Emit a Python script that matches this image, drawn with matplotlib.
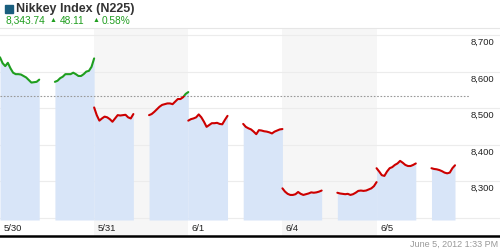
import numpy as np
import matplotlib
matplotlib.use("Agg")
import matplotlib.pyplot as plt
from matplotlib.patches import Rectangle

plt.rcParams['font.family'] = ['Liberation Sans', 'DejaVu Sans']

# Nikkei 225 intraday, 10 minute prices, sessions 9:00-11:30 and 12:30-15:00
days = ["5/30", "5/31", "6/1", "6/4", "6/5"]
am_prices = [
    [8639, 8623, 8615, 8624, 8609, 8597, 8593, 8593, 8592, 8588, 8584, 8577, 8570, 8571, 8572, 8578],
    [8502, 8481, 8466, 8472, 8477, 8475, 8470, 8463, 8472, 8481, 8480, 8481, 8482, 8475, 8472, 8484],
    [8466, 8470, 8472, 8475, 8483, 8475, 8463, 8449, 8454, 8459, 8459, 8460, 8457, 8456, 8468, 8479],
    [8281, 8272, 8266, 8263, 8263, 8265, 8271, 8266, 8263, 8265, 8267, 8270, 8269, 8270, 8272, 8275],
    [8336, 8327, 8317, 8315, 8327, 8336, 8339, 8345, 8349, 8356, 8351, 8345, 8342, 8342, 8345, 8349],
]
pm_prices = [
    [8572, 8575, 8582, 8586, 8593, 8593, 8593, 8597, 8593, 8588, 8588, 8593, 8600, 8602, 8613, 8636],
    [8481, 8484, 8490, 8497, 8504, 8509, 8511, 8513, 8513, 8511, 8518, 8525, 8525, 8530, 8539, 8544],
    [8457, 8449, 8445, 8442, 8436, 8429, 8440, 8439, 8437, 8436, 8434, 8431, 8436, 8439, 8442, 8443],
    [8269, 8267, 8266, 8265, 8266, 8263, 8265, 8269, 8274, 8275, 8274, 8275, 8278, 8281, 8287, 8298],
    [8336, 8334, 8333, 8331, 8328, 8324, 8322, 8324, 8336, 8344],
]
prev_close = 8534
y_ticks = [8200, 8300, 8400, 8500, 8600, 8700]
y_labels = ["", "8,300", "8,400", "8,500", "8,600", "8,700"]

GREEN = "#1f9e1f"
RED = "#cc0000"
FILL = "#d8e5f8"
BAND = "#f6f6f6"

fig = plt.figure(figsize=(5, 2.5), dpi=100)
ax = fig.add_axes([0, 1 - 236 / 250, 1, 208 / 250])
ax.set_xlim(0, 500 / 15.69)
ax.set_ylim(8150.8, 8719.1)
base = 8194.5

# alternate day shading
for d in range(len(days)):
    if d % 2 == 1:
        ax.axvspan(6 * d, 6 * d + 6, color=BAND, lw=0, zorder=0)

for t in y_ticks:
    ax.axhline(t, color="#ececec", lw=0.8, zorder=1)

step = 1 / 6.0
for d in range(len(days)):
    for start, prices in ((0.0, am_prices[d]), (3.5, pm_prices[d])):
        x = 6 * d + start + step * np.arange(len(prices))
        y = np.array(prices)
        ax.fill_between(x, base, y, color=FILL, lw=0, zorder=2)
        for col, lo, hi in ((GREEN, prev_close, 9000), (RED, 8000, prev_close)):
            ln, = ax.plot(x, y, color=col, lw=1.5, zorder=4,
                          solid_joinstyle="round", solid_capstyle="round")
            clip = Rectangle((0, lo), 100, hi - lo, transform=ax.transData)
            ln.set_clip_path(clip)

ax.axhline(prev_close, xmax=470 / 500, color="#999999", lw=0.8,
           linestyle=(0, (1.5, 1.5)), zorder=3)

for t, lab in zip(y_ticks, y_labels):
    if lab:
        ax.annotate(lab, xy=(494 / 500, t), xycoords=("axes fraction", "data"),
                    xytext=(0, -2.0), textcoords="offset points",
                    ha="right", va="top", fontsize=6.8, color="#222222", zorder=5)

for d, lab in enumerate(days):
    ax.annotate(lab, xy=(6 * d, 8172), xycoords="data", xytext=(2.5, 0),
                textcoords="offset points", ha="left", va="center",
                fontsize=6.8, color="#222222")

ax.set_xticks([])
ax.set_yticks([])
for s in ("left", "right"):
    ax.spines[s].set_visible(False)
ax.spines["top"].set_color("#e6e6e6")
ax.spines["top"].set_linewidth(0.8)
ax.spines["bottom"].set_color("black")
ax.spines["bottom"].set_linewidth(1.8)

# header
fig.patches.append(Rectangle((5 / 500, 1 - 13 / 250), 8 / 500, 8 / 250,
                             transform=fig.transFigure, color="#1a5e7e"))
fig.text(15.5 / 500, 1 - 8.8 / 250, "Nikkey Index (N225)", fontsize=9,
         fontweight="bold", color="#333333", va="center", ha="left")
fig.text(5 / 500, 1 - 20.5 / 250, "8,343.74", fontsize=7.3, color=GREEN,
         va="center", ha="left")
fig.text(50 / 500, 1 - 20.5 / 250, "\u25b2", fontsize=5, color=GREEN,
         va="center", ha="left")
fig.text(60 / 500, 1 - 20.5 / 250, "48.11", fontsize=7.3, color=GREEN,
         va="center", ha="left")
fig.text(93 / 500, 1 - 20.5 / 250, "\u25b2", fontsize=5, color=GREEN,
         va="center", ha="left")
fig.text(102 / 500, 1 - 20.5 / 250, "0.58%", fontsize=7.3, color=GREEN,
         va="center", ha="left")
fig.text(498 / 500, 1 - 244 / 250, "June 5, 2012 1:33 PM", fontsize=6.5,
         color="#999999", va="center", ha="right")

fig.savefig("out.png", dpi=100)
